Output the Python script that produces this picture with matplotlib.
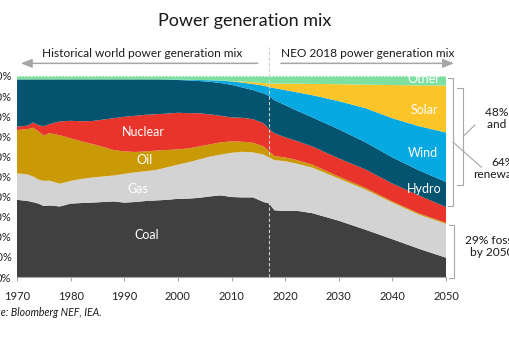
import matplotlib.pyplot as plt
import numpy as np

plt.rcParams.update({
    'font.family': ['Lato', 'DejaVu Sans'],
})

# ── colours ───────────────────────────────────────────────────
C_COAL = '#404040'
C_GAS = '#d3d3d3'
C_OIL = '#c99a06'
C_NUC = '#e8342a'
C_HYDRO = '#045470'
C_WIND = '#06a9e1'
C_SOLAR = '#fbc52a'
C_OTHER = '#7ee0a0'
C_GUIDE = '#a6a6a6'

# ── data: share of world power generation (%) ─────────────────
years_hist = [1970, 1972, 1973, 1974, 1975, 1976, 1978, 1980, 1982, 1984, 1986, 1988, 1990,
              1992, 1994, 1996, 1998, 2000, 2002, 2004, 2006, 2008, 2010, 2012, 2014, 2016, 2017]
coal_hist = [38.4, 37.8, 37.2, 36.5, 35.3, 35.6, 35.1, 36.5, 36.8, 37.0, 37.3, 37.6, 37.0,
             37.3, 37.8, 38.1, 38.4, 38.9, 39.0, 39.4, 40.1, 40.6, 39.8, 39.6, 39.6, 37.3, 36.6]
gas_hist = [13.2, 13.2, 12.8, 12.0, 12.5, 12.4, 11.3, 11.3, 12.0, 12.5, 12.7, 12.9, 14.3,
            14.8, 14.8, 15.2, 16.2, 17.0, 18.1, 19.1, 19.8, 20.3, 22.0, 22.7, 22.4, 23.6, 22.9]
oil_hist = [21.5, 22.6, 24.3, 24.0, 22.5, 23.6, 24.1, 21.2, 18.7, 16.7, 14.8, 12.7, 11.2,
            10.1, 9.9, 9.6, 8.6, 7.6, 6.9, 6.5, 6.1, 6.1, 5.7, 5.0, 4.8, 4.1, 3.0]
nuclear_hist = [1.7, 1.7, 2.6, 3.0, 4.7, 4.4, 6.9, 8.7, 10.0, 11.4, 13.5, 15.8, 17.2,
                18.0, 18.2, 18.1, 18.1, 18.2, 17.5, 16.5, 14.9, 13.2, 11.9, 11.9, 11.7, 11.5, 11.1]
hydro_hist = [23.5, 23.0, 21.4, 22.8, 23.3, 22.3, 20.9, 20.6, 20.8, 20.7, 20.0, 19.3, 18.6,
              18.1, 17.6, 17.3, 16.9, 16.3, 16.3, 16.0, 16.2, 16.3, 16.2, 15.1, 14.5, 14.8, 16.5]
wind_hist = [0, 0, 0, 0, 0, 0, 0, 0, 0, 0, 0, 0, 0,
             0, 0, 0, 0.1, 0.2, 0.3, 0.5, 0.8, 1.2, 1.7, 2.4, 3.0, 3.9, 4.4]
solar_hist = [0, 0, 0, 0, 0, 0, 0, 0, 0, 0, 0, 0, 0,
              0, 0, 0, 0, 0, 0, 0, 0, 0, 0.2, 0.5, 0.9, 1.3, 1.7]
other_hist = [1.7, 1.7, 1.7, 1.7, 1.7, 1.7, 1.7, 1.7, 1.7, 1.7, 1.7, 1.7, 1.7,
              1.7, 1.7, 1.7, 1.7, 1.8, 1.9, 2.0, 2.1, 2.3, 2.5, 2.8, 3.1, 3.5, 3.8]

years_proj = [2018, 2020, 2022, 2025, 2030, 2035, 2040, 2045, 2050]
coal_proj = [33.2, 32.8, 33.0, 31.8, 28.0, 23.5, 18.8, 14.0, 9.6]
gas_proj = [25.0, 24.8, 23.5, 22.7, 21.0, 20.0, 18.2, 17.0, 16.8]
oil_proj = [2.0, 1.9, 1.8, 1.5, 1.0, 0.8, 0.6, 0.6, 0.6]
nuclear_proj = [11.3, 10.0, 9.5, 9.0, 9.0, 9.2, 8.9, 8.9, 7.8]
hydro_proj = [16.5, 16.0, 15.2, 14.5, 14.5, 13.5, 13.0, 12.5, 12.5]
wind_proj = [6.0, 7.5, 9.0, 11.0, 14.0, 17.0, 19.5, 22.0, 24.6]
solar_proj = [2.2, 3.2, 4.2, 5.6, 8.4, 11.7, 16.5, 20.3, 23.3]
other_proj = [3.8, 3.8, 3.8, 3.9, 4.1, 4.3, 4.5, 4.7, 4.8]

sources = ['Coal', 'Gas', 'Oil', 'Nuclear', 'Hydro', 'Wind', 'Solar', 'Other']
colors = [C_COAL, C_GAS, C_OIL, C_NUC, C_HYDRO, C_WIND, C_SOLAR, C_OTHER]
x_ticks = [1970, 1980, 1990, 2000, 2010, 2020, 2030, 2040, 2050]
y_ticks = [0, 10, 20, 30, 40, 50, 60, 70, 80, 90, 100]
SPLIT_YEAR = 2017

years = np.array(years_hist + years_proj)
stack = np.array([
    coal_hist + coal_proj,
    gas_hist + gas_proj,
    oil_hist + oil_proj,
    nuclear_hist + nuclear_proj,
    hydro_hist + hydro_proj,
    wind_hist + wind_proj,
    solar_hist + solar_proj,
    other_hist + other_proj,
])

# ── canvas ────────────────────────────────────────────────────
W, H = 509, 337
fig = plt.figure(figsize=(W / 100, H / 100), dpi=100)
ax = fig.add_axes([17 / W, 60 / H, 429 / W, 201 / H])

ax.stackplot(years, stack, colors=colors, linewidth=0)
ax.axhline(100, color='white', lw=0.6, ls=(0, (2, 2)), zorder=3)

ax.set_xlim(1970, 2050)
ax.set_ylim(0, 100)
ax.set_xticks(x_ticks)
ax.set_yticks(y_ticks)
ax.set_yticklabels([f'{v}%' for v in y_ticks])
for s in ['top', 'right', 'left']:
    ax.spines[s].set_visible(False)
ax.spines['bottom'].set_color(C_GUIDE)
ax.spines['bottom'].set_linewidth(0.8)
ax.tick_params(axis='x', length=3, width=0.8, color=C_GUIDE, pad=7,
               labelsize=8, labelcolor='#222222')
ax.tick_params(axis='y', length=0, pad=4, labelsize=8, labelcolor='#222222')

# split between history and forecast
ax.axvline(SPLIT_YEAR, ymin=0, ymax=1.145, color='#cfcfcf', lw=0.8,
           ls=(0, (3, 2)), clip_on=False, zorder=4)

# ── labels inside the areas ───────────────────────────────────
lab_kw = dict(color='white', fontsize=9, ha='center', va='center', zorder=5)
ax.text(1994.2, 20.8, 'Coal', **lab_kw)
ax.text(1992.6, 44.0, 'Gas', **lab_kw)
ax.text(1993.7, 58.4, 'Oil', **lab_kw)
ax.text(1993.5, 72.3, 'Nuclear', **lab_kw)
ax.text(2045.9, 43.6, 'Hydro', **lab_kw)
ax.text(2045.7, 61.9, 'Wind', **lab_kw)
ax.text(2045.9, 83.2, 'Solar', **lab_kw)
ax.text(2045.9, 98.6, 'Other', clip_on=True, **lab_kw)

# ── header ────────────────────────────────────────────────────
fig.text(245 / W, 1 - 21 / H, 'Power generation mix', ha='center', va='center',
         fontsize=13, color='#1a1a1a')
arrow_kw = dict(arrowstyle='-|>,head_length=0.55,head_width=0.22', color=C_GUIDE,
                lw=1.1, mutation_scale=12)
ax.annotate('', xy=(1970.2, 106.3), xytext=(2015.4, 106.3),
            arrowprops=arrow_kw, annotation_clip=False)
ax.annotate('', xy=(2052.0, 106.3), xytext=(2018.7, 106.3),
            arrowprops=arrow_kw, annotation_clip=False)
ax.text(1993.4, 111.3, 'Historical world power generation mix', ha='center', va='center',
        fontsize=8.6, color='#1a1a1a', clip_on=False)
ax.text(2035.4, 111.3, 'NEO 2018 power generation mix', ha='center', va='center',
        fontsize=8.6, color='#1a1a1a', clip_on=False)

# ── brackets on the right (from the 2050 values) ──────────────
cum = np.cumsum(stack[:, -1])
fossil_top = cum[2]
nuclear_top = cum[3]
hydro_top = cum[4]
solar_top = cum[6]


def bracket(x, y0, y1, tick=0.95):
    ax.plot([x - tick, x, x, x - tick], [y0, y0, y1, y1], color=C_GUIDE,
            lw=0.8, clip_on=False, solid_joinstyle='miter')


bracket(2051.3, nuclear_top + 0.5, 99.0)
bracket(2053.2, hydro_top - 1.5, solar_top - 1.0, tick=1.1)
bracket(2051.5, -0.5, fossil_top - 1.0)

mid_r = (nuclear_top + 0.5 + 99.0) / 2
mid_sw = (hydro_top - 1.5 + solar_top - 1.0) / 2
ax.plot([2051.3, 2056.6], [mid_r, 54.6], color=C_GUIDE, lw=0.8, clip_on=False)
ax.plot([2053.2, 2055.4], [mid_sw, 75.6], color=C_GUIDE, lw=0.8, clip_on=False)

note_kw = dict(fontsize=8.6, color='#1a1a1a', ha='center', va='center',
               linespacing=1.1, clip_on=False)
ax.text(2062.1, 78.9, '48% solar\nand wind', **note_kw)
ax.text(2060.6, 54.0, '64%\nrenewables', **note_kw)
ax.text(2058.6, 15.0, '29% fossil\nby 2050', **note_kw)

# ── source ────────────────────────────────────────────────────
fig.text(102 / W, 1 - 313 / H, 'Source: Bloomberg NEF, IEA.', ha='right', va='center',
         fontsize=7.6, style='italic', color='#1a1a1a')

fig.savefig('out.png', dpi=100, facecolor='white')
plt.close(fig)
